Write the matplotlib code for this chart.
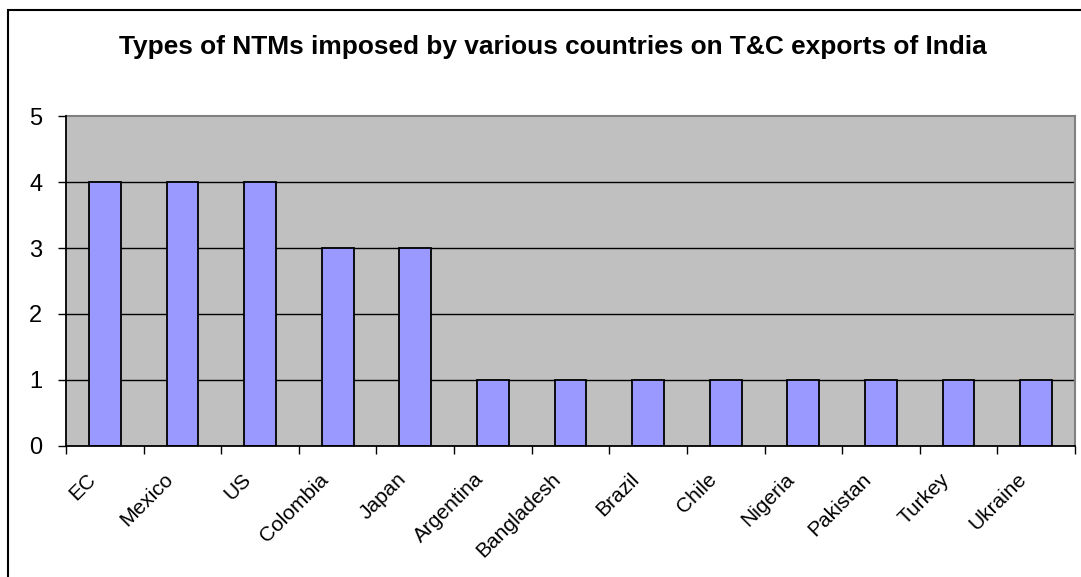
import numpy as np
import matplotlib
matplotlib.use("Agg")
import matplotlib.pyplot as plt
from matplotlib.patches import Rectangle
from matplotlib.transforms import ScaledTranslation

plt.rcParams['font.family'] = ['Liberation Sans', 'DejaVu Sans']

# ── Data ─────────────────────────────────────────
countries = ['EC', 'Mexico', 'US', 'Colombia', 'Japan', 'Argentina',
             'Bangladesh', 'Brazil', 'Chile', 'Nigeria', 'Pakistan',
             'Turkey', 'Ukraine']
ntm_types = [4, 4, 4, 3, 3, 1, 1, 1, 1, 1, 1, 1, 1]
y_ticks = [0, 1, 2, 3, 4, 5]
title = 'Types of NTMs imposed by various countries on T&C exports of India'

# ── Figure ───────────────────────────────────────
W, H = 1081, 577
fig = plt.figure(figsize=(W / 100, H / 100), dpi=100)

# outer chart frame (right/bottom edges run off the page)
fig.patches.append(Rectangle((8 / W, -0.1), 1.2, (H - 10) / H + 0.1,
                             transform=fig.transFigure, fill=False,
                             edgecolor='black', linewidth=1.5))

ax = fig.add_axes([66 / W, (H - 446) / H, (1075 - 66) / W, (446 - 116) / H])
ax.set_facecolor('#C0C0C0')

x = np.arange(len(countries))
ax.bar(x, ntm_types, width=0.41, color='#9999FF', edgecolor='black',
       linewidth=1.3, zorder=3)

ax.set_xlim(-0.5, len(countries) - 0.5)
ax.set_ylim(0, 5)

# gridlines
for v in y_ticks[1:-1]:
    ax.axhline(v, color='black', linewidth=1.0, zorder=1)

# spines: axes black, plot-area border gray
for side in ['top', 'right']:
    ax.spines[side].set_color('#808080')
    ax.spines[side].set_linewidth(1.5)
for side in ['left', 'bottom']:
    ax.spines[side].set_color('black')
    ax.spines[side].set_linewidth(1.3)
    ax.spines[side].set_zorder(4)

# y axis
ax.set_yticks(y_ticks)
ax.set_yticklabels([str(v) for v in y_ticks])
ax.tick_params(axis='y', direction='out', length=6, width=1, pad=11,
               labelsize=17)

# x axis: ticks between categories, labels at centres
ax.set_xticks(np.arange(len(countries) + 1) - 0.5)
ax.set_xticklabels([])
ax.tick_params(axis='x', which='major', direction='out', length=6, width=1)
ax.set_xticks(x, minor=True)
ax.set_xticklabels(countries, minor=True, rotation=45, ha='right',
                   rotation_mode='anchor', fontsize=15)
ax.tick_params(axis='x', which='minor', length=0, pad=17)
shift = ScaledTranslation(-0.19, 0, fig.dpi_scale_trans)
for lbl in ax.get_xticklabels(minor=True):
    lbl.set_transform(lbl.get_transform() + shift)

fig.text(553 / W, (H - 47) / H, title, ha='center', va='center',
         fontsize=18.9, fontweight='bold')

fig.savefig('out.png', dpi=100)
